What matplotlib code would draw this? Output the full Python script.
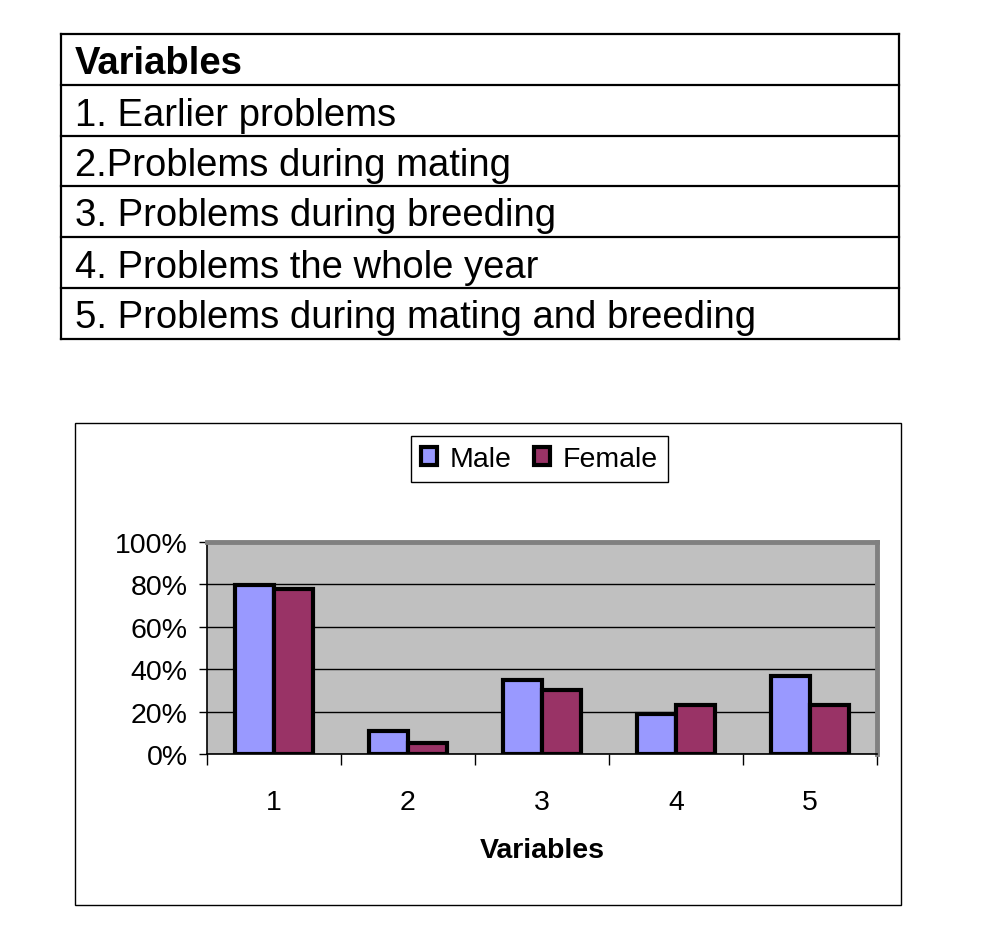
import matplotlib.pyplot as plt
from matplotlib.lines import Line2D
from matplotlib.patches import Patch, Rectangle
import numpy as np

plt.rcParams['font.family'] = ['Liberation Sans', 'DejaVu Sans']

table_header = "Variables"
table_rows = [
    "1. Earlier problems",
    "2.Problems during mating",
    "3. Problems during breeding",
    "4. Problems the whole year",
    "5. Problems during mating and breeding",
]

categories = ["1", "2", "3", "4", "5"]
male = [79.5, 11, 35, 19, 37]
female = [78, 5, 30, 23, 23]

W, H = 1007, 937
fig = plt.figure(figsize=(W / 100, H / 100), dpi=100)


def fx(px):
    return px / W


def fy(py):
    return 1 - py / H


# ---- table of variables ----
row_y = [35, 86, 137, 187, 238, 289, 340]
for yy in row_y:
    fig.add_artist(Line2D([fx(61), fx(899)], [fy(yy), fy(yy)], color="black", lw=1.6))
for xx in [61, 899]:
    fig.add_artist(Line2D([fx(xx), fx(xx)], [fy(35), fy(340)], color="black", lw=1.6))

texts = [table_header] + table_rows
for i, t in enumerate(texts):
    yc = (row_y[i] + row_y[i + 1]) / 2 + 4
    fig.text(fx(75), fy(yc), t, fontsize=27.5, va="center", ha="left",
             fontweight="bold" if i == 0 else "normal")

# ---- chart box ----
fig.add_artist(Rectangle((fx(75), fy(906)), fx(901) - fx(75), fy(424) - fy(906),
                         transform=fig.transFigure, fill=False, edgecolor="black", lw=1))

ax = fig.add_axes([fx(207), fy(755), fx(877) - fx(207), fy(543) - fy(755)])
ax.set_facecolor("#C0C0C0")

x = np.arange(1, len(categories) + 1)
w = 0.29
ax.bar(x - w / 2, male, w, color="#9999FF", edgecolor="black", lw=3, zorder=3)
ax.bar(x + w / 2, female, w, color="#993366", edgecolor="black", lw=3, zorder=3)

ax.set_xlim(0.5, 5.5)
ax.set_ylim(0, 100)
ax.set_yticks(np.arange(0, 101, 20))
ax.set_yticklabels([f"{v}%" for v in range(0, 101, 20)], fontsize=20.5)
ax.yaxis.grid(True, color="black", lw=1)
ax.set_axisbelow(True)

ax.set_xticks(x)
ax.set_xticklabels(categories, fontsize=20.5)
ax.set_xticks(np.arange(0.5, 5.6, 1), minor=True)
ax.tick_params(axis="x", which="major", length=0, pad=25)
ax.tick_params(axis="x", which="minor", length=8, width=1, direction="out")
ax.tick_params(axis="y", length=6, width=1, direction="out", pad=8)

for side in ["top", "right"]:
    ax.spines[side].set_color("#808080")
    ax.spines[side].set_linewidth(3.5)
ax.spines["left"].set_color("black")
ax.spines["left"].set_linewidth(1.2)
ax.spines["bottom"].set_color("black")
ax.spines["bottom"].set_linewidth(1.2)

fig.text(fx(542), fy(851), "Variables", fontsize=20.5, fontweight="bold",
         ha="center", va="center")

handles = [Patch(facecolor="#9999FF", edgecolor="black", lw=3),
           Patch(facecolor="#993366", edgecolor="black", lw=3)]
leg = fig.legend(handles, ["Male", "Female"], loc="center",
                 bbox_to_anchor=(fx(539.5), fy(460)), ncol=2, fontsize=20.5,
                 frameon=True, fancybox=False, framealpha=1, edgecolor="black",
                 handlelength=0.55, handleheight=0.55, handletextpad=0.45,
                 columnspacing=0.8, borderpad=0.35, borderaxespad=0)
leg.get_frame().set_linewidth(1)

fig.savefig("out.png", dpi=100)
